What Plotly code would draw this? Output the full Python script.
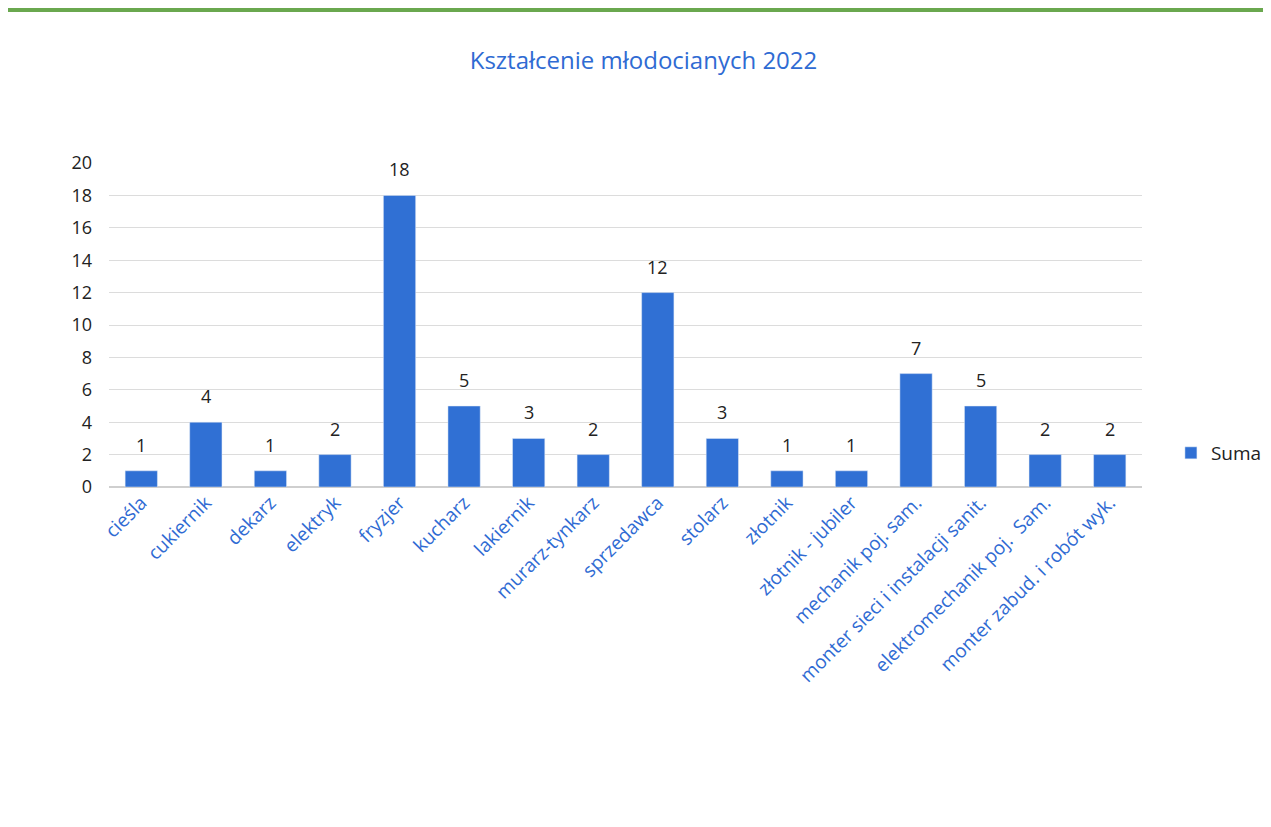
import plotly.graph_objects as go

# data
zawody = ["cieśla", "cukiernik", "dekarz", "elektryk", "fryzjer", "kucharz",
          "lakiernik", "murarz-tynkarz", "sprzedawca", "stolarz", "złotnik",
          "złotnik - jubiler", "mechanik poj. sam.", "monter sieci i instalacji sanit.",
          "elektromechanik poj.  Sam.", "monter zabud. i robót wyk."]
liczba = [1, 4, 1, 2, 18, 5, 3, 2, 12, 3, 1, 1, 7, 5, 2, 2]
y_ticks = list(range(0, 21, 2))

BLUE = "#3070d4"
FONT = "Open Sans"

fig = go.Figure()
fig.add_trace(go.Bar(x=zawody, y=liczba, name="Suma", marker_color=BLUE))

# value labels sit a bit higher above the bars than plotly's "outside" text
for z, v in zip(zawody, liczba):
    fig.add_annotation(x=z, y=v, text=str(v), showarrow=False, yshift=26,
                       font=dict(family=FONT, size=18, color="#222222"))

# green strip at the very top of the scanned page
fig.add_shape(type="rect", xref="paper", yref="paper",
              x0=-0.11, x1=1.14, y0=1.466, y1=1.52,
              fillcolor="#6aa84f", line_width=0, layer="above")

fig.update_layout(
    width=1271, height=827,
    margin=dict(l=101, r=133, t=155, b=348),
    plot_bgcolor="white", paper_bgcolor="white",
    title=dict(text="Kształcenie młodocianych 2022", x=0.5, xanchor="center",
               y=0.937, yanchor="middle",
               font=dict(family=FONT, size=24, color="#2f6bd3")),
    bargap=0.5,
    showlegend=True,
    legend=dict(x=1.028, y=0.105, xanchor="left", yanchor="middle",
                font=dict(family=FONT, size=19, color="#222222")),
    font=dict(family=FONT),
)
fig.update_yaxes(range=[0, 20], tickvals=y_ticks, showgrid=True,
                 gridcolor="#dcdcdc", gridwidth=1, zeroline=True,
                 zerolinecolor="#cfcfcf", ticks="", ticklabelstandoff=16,
                 tickfont=dict(family=FONT, size=18, color="#222222"))
fig.update_xaxes(tickangle=-45, showline=False, ticks="",
                 tickfont=dict(family=FONT, size=19, color="#2f6bd3"))

fig.write_html("out.html")
